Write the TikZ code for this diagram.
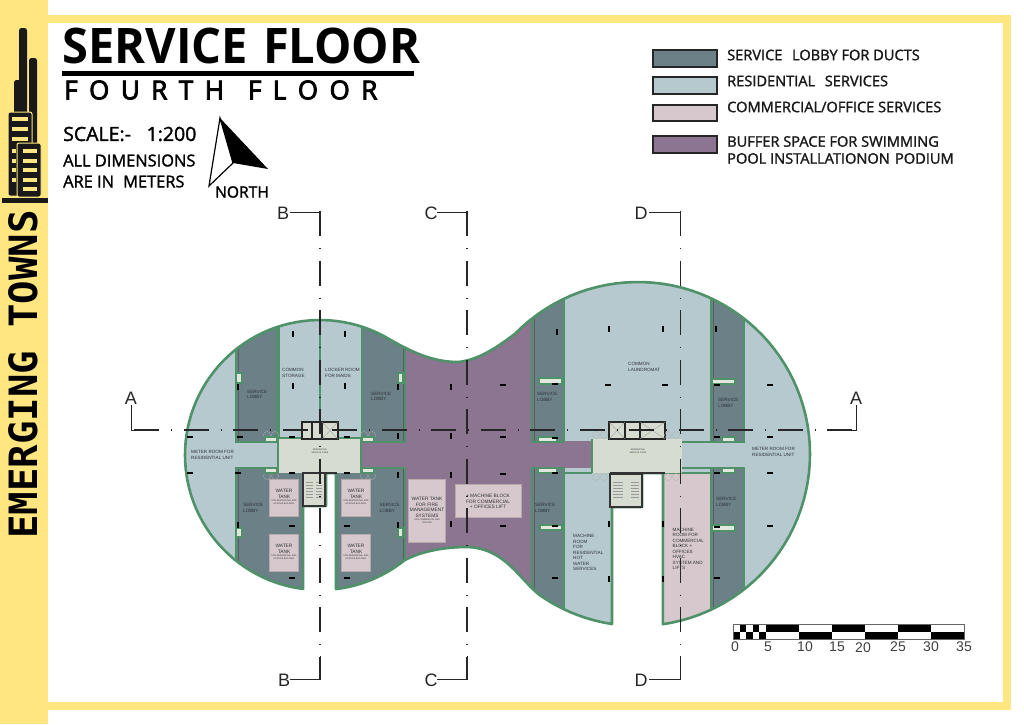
\documentclass[tikz,border=0pt]{standalone}
\usepackage{fontspec}
\setmainfont{Open Sans}
\newfontfamily\planfont{Liberation Sans}
\newfontfamily\towerfont{DejaVu Sans Mono}
\newfontfamily\headfont[FakeBold=1.6]{Open Sans}
\newfontfamily\subheadfont[FakeBold=3.4]{Open Sans}
\usepackage{xcolor}
\usepackage{tikz}
\usetikzlibrary{positioning}

\definecolor{strip}{HTML}{FFE680}
\definecolor{walls}{HTML}{4F9168}
\definecolor{lobbyc}{HTML}{6C8087}
\definecolor{resc}{HTML}{B6C9CF}
\definecolor{commc}{HTML}{D6C8CC}
\definecolor{bufferc}{HTML}{8B7590}
\definecolor{corec}{HTML}{D6DDD0}
\definecolor{inkc}{HTML}{2E3438}

\newcommand{\planoutline}{
    plot[domain=97.2:301,samples=70,variable=\t] ({320+135*cos(\t)},{455+135*sin(\t)})
    .. controls (415,354) and (435,362) .. (458,362)
    .. controls (480,360) and (500,345) .. (516,333)
    -- plot[domain=224.8:441.7,samples=70,variable=\t] ({638+172*cos(\t)},{454+172*sin(\t)})
    -- (663,473) -- (642,473) -- (642,507) -- (612,507)
    -- plot[domain=98.7:124.8,samples=12,variable=\t] ({638+172*cos(\t)},{454+172*sin(\t)})
    .. controls (520,580) and (505,548) .. (467,547)
    .. controls (445,547) and (422,551) .. (405,560)
    -- plot[domain=51:83.2,samples=12,variable=\t] ({320+135*cos(\t)},{455+135*sin(\t)})
    -- (336,473) -- (326,473) -- (326,506) -- (303,506) -- cycle}

\begin{document}
\begin{tikzpicture}[
        x=1pt, y=-1pt,
        every node/.style={inner sep=0pt},
        lobby/.style={fill=lobbyc, draw=walls, line width=1.8pt},
        resroom/.style={fill=resc, draw=walls, line width=1.8pt},
        commroom/.style={fill=commc, draw=walls, line width=1.8pt},
        tankbox/.style={fill=commc, draw=commc!85!black, line width=0.3pt},
        duct/.style={fill=corec!70!white, draw=walls, line width=1.5pt},
        liftwall/.style={draw=black!85, line width=2pt},
        stairwall/.style={draw=black!80, line width=1.6pt},
        thinline/.style={draw=black!40, line width=0.3pt},
        cutline/.style={draw=black!85, line width=1.2pt, dash pattern=on 25pt off 12pt on 1pt off 11.5pt},
        bracket/.style={draw=black!85, line width=1pt},
        cutletter/.style={font=\planfont\fontsize{18}{18}\selectfont, text=black!85},
        planlabel/.style={font=\planfont\fontsize{4.6}{5.5}\selectfont, text=inkc, align=left, anchor=west},
        tanklabel/.style={font=\planfont\fontsize{4.8}{5.5}\selectfont, text=inkc, align=center},
        finelabel/.style={font=\planfont\fontsize{2.2}{2.6}\selectfont, text=inkc, align=center},
        legendbox/.style={draw=black!85, line width=1.5pt},
        legendlabel/.style={font=\headfont\fontsize{14.6}{17}\selectfont, text=black!90, align=left, anchor=west},
        scalenum/.style={font=\planfont\fontsize{14}{14}\selectfont, text=black!75}
    ]
    \useasboundingbox (0,0) rectangle (1024,724);

    % Sheet frame -----------------------------------------
    \fill[white] (0,0) rectangle (1024,724);
    \fill[strip] (0,0) rectangle (48,724);
    \draw[strip, line width=8pt] (48,19) -- (1007,19) -- (1007,706) -- (48,706);

    % Tower icon
    \fill[black!90, rounded corners=2.5pt] (19,28) rectangle (27,132);
    \fill[black!90, rounded corners=2.5pt] (29,58) rectangle (37,150);
    \fill[black!90, rounded corners=2.5pt] (14,80) rectangle (22,125);
    \draw[strip, fill=black!90, line width=1pt, rounded corners=2pt] (8,112) rectangle (32,196);
    \foreach \ypos in {117,127,137} {
        \fill[strip] (12,\ypos) rectangle (28,\ypos+3.5);
    }
    \foreach \ypos in {149,159,168,178} {
        \fill[strip] (12,\ypos) rectangle (16,\ypos+3.5);
    }
    \draw[strip, fill=black!90, line width=1pt, rounded corners=2pt] (17,143) rectangle (41,197);
    \foreach \ypos in {149,159,168,178,187} {
        \fill[strip] (23,\ypos) rectangle (37,\ypos+3.5);
    }
    \fill[black!90] (2,198) rectangle (48,203);
    \node[rotate=90, anchor=west, font=\towerfont\bfseries\fontsize{39}{39}\selectfont] (brand) at (23,539) {EMERGING TOWNS};

    % Title block
    \node[anchor=west, font=\bfseries\fontsize{49}{49}\selectfont] (title) at (62,46) {\scalebox{0.96}[1]{SERVICE\hspace{3pt} FLOOR}};
    \fill[black] (62,71) rectangle (414,76) coordinate (titlerule);
    \node[anchor=west, font=\subheadfont\fontsize{26}{26}\selectfont] (subtitle) at (64,90) {F\hspace{11.5pt}O\hspace{11.5pt}U\hspace{11.5pt}R\hspace{11.5pt}T\hspace{11.5pt}H\hspace{24pt}F\hspace{11.5pt}L\hspace{11.5pt}O\hspace{11.5pt}O\hspace{11.5pt}R};
    \node[anchor=west, font=\headfont\fontsize{19.5}{20}\selectfont] (scale) at (63,134) {SCALE:-\hspace{0.8em}1:200};
    \node[anchor=west, align=left, font=\headfont\fontsize{16.4}{21}\selectfont] (dims) at (63,171) {ALL DIMENSIONS\\ARE IN\hspace{0.3em} METERS};

    % North arrow
    \draw[black, line width=1.2pt, fill=white] (220,118) -- (209,186) -- (233,163) -- cycle;
    \fill[black] (220,118) -- (268,169) -- (233,163) -- cycle;
    \node[font=\headfont\fontsize{15.6}{15}\selectfont] (north) at (242,192) {NORTH};

    % Legend
    \draw[legendbox, fill=lobbyc] (653,50) rectangle (717,67);
    \draw[legendbox, fill=resc] (653,77) rectangle (717,94);
    \draw[legendbox, fill=commc] (653,105) rectangle (717,121);
    \draw[legendbox, fill=bufferc] (653,136) rectangle (717,153);
    \node[legendlabel] (legone) at (727,55) {SERVICE\hspace{0.4em} LOBBY FOR DUCTS};
    \node[legendlabel] (legtwo) at (727,81) {RESIDENTIAL\hspace{0.4em} SERVICES};
    \node[legendlabel] (legthree) at (727,107) {COMMERCIAL/OFFICE SERVICES};
    \node[legendlabel] (legfour) at (727,150) {BUFFER SPACE FOR SWIMMING\\POOL INSTALLATIONON\hspace{0.1em} PODIUM};

    % Floor zones -----------------------------------------
    \begin{scope}
        \clip \planoutline;
        \fill[resc] (170,270) rectangle (830,640);
        \fill[bufferc] (405,300) rectangle (532,610);
        \fill[bufferc] (361,441) rectangle (592,468);
        % left lobe
        \draw[lobby] (236,300) rectangle (277,442);
        \draw[resroom] (279,300) rectangle (320,438);
        \draw[resroom] (320,300) rectangle (362,438);
        \draw[lobby] (362,300) rectangle (405,442);
        \draw[lobby] (236,468) rectangle (303,610);
        \draw[lobby] (336,468) rectangle (405,610);
        % right lobe
        \draw[lobby] (532,290) rectangle (564,442);
        \draw[lobby] (532,468) rectangle (564,640);
        \draw[lobby] (711,280) rectangle (744,442);
        \draw[lobby] (711,468) rectangle (744,640);
        \draw[commroom] (663,473) rectangle (711,640);
        \draw[walls, line width=1.8pt] (564,473) -- (592,473);
        \draw[walls, line width=1.8pt] (612,507) -- (612,640);
        \draw[walls, line width=1.8pt] (682,442) -- (711,442);
        \draw[walls, line width=1.8pt] (682,468) -- (711,468);
        % dark inner wall faces
        \draw[inkc!80, line width=1pt] (238,300) -- (238,441);
        \draw[inkc!80, line width=1pt] (403,300) -- (403,441);
        \draw[inkc!80, line width=1pt] (238,469) -- (238,600);
        \draw[inkc!80, line width=1pt] (403,469) -- (403,600);
        \draw[inkc!80, line width=1pt] (534,469) -- (534,610);
        \draw[inkc!80, line width=1pt] (534,300) -- (534,441);
        \draw[inkc!80, line width=1pt] (713,290) -- (713,441);
        \draw[inkc!80, line width=1pt] (713,469) -- (713,630);
    \end{scope}
    \draw[walls, line width=2.6pt, line join=round] \planoutline;

    % Service cores
    \fill[corec] (278,439) rectangle (361,473);
    \fill[corec] (592,439) rectangle (682,473);
    \draw[walls, line width=1.4pt] (278,439) -- (278,473);
    \draw[walls, line width=1.4pt] (361,439) -- (361,473);
    \draw[walls, line width=1.4pt] (592,439) -- (592,473);
    \draw[black!80, line width=1.6pt] (302,473) -- (337,473);
    \draw[black!80, line width=1.6pt] (610,473) -- (665,473);

    % Lift blocks
    \draw[liftwall, fill=corec] (302,422) rectangle (338,439);
    \draw[liftwall] (312,422) -- (312,439);
    \draw[liftwall] (322,422) -- (322,439);
    \draw[thinline] (322,422) -- (338,439);
    \draw[thinline] (322,439) -- (338,422);
    \draw[liftwall, fill=corec] (609,422) rectangle (665,439);
    \draw[liftwall] (625,422) -- (625,439);
    \draw[liftwall] (640,422) -- (640,439);
    \draw[thinline] (609,422) -- (625,439);
    \draw[thinline] (609,439) -- (625,422);
    \draw[thinline] (640,422) -- (665,439);
    \draw[thinline] (640,439) -- (665,422);

    % Stairs
    \draw[stairwall, fill=corec] (303,473) rectangle (325,506);
    \draw[stairwall, fill=corec] (610,474) rectangle (642,507);
    \foreach \ypos in {482,485,488,491,494,497} {
        \draw[thinline] (306,\ypos) -- (313,\ypos);
        \draw[thinline] (316,\ypos) -- (322,\ypos);
        \draw[thinline] (613,\ypos) -- (623,\ypos);
        \draw[thinline] (631,\ypos) -- (639,\ypos);
    }

    % Door swings
    \foreach \xpos/\ypos in {267/435,275/435,364/435,372/435,267/476,275/476,364/476,372/476,
                             596/435,604/435,668/435,676/435,596/477,604/477,668/477,676/477} {
        \draw[black!30, line width=0.3pt] (\xpos,\ypos) circle[radius=3.5];
    }

    % Duct shafts
    \foreach \xa/\ya/\xb/\yb in {236/373/242/383, 398/373/403/383, 236/528/242/537, 398/528/403/537,
                                 265/437/277/442, 362/437/374/442, 265/468/277/473, 362/468/374/473,
                                 539/378/562/384, 538/437/557/442, 538/468/557/473, 540/525/562/530,
                                 712/379/735/384, 722/437/735/442, 722/468/735/473, 712/525/735/531} {
        \draw[duct] (\xa,\ya) rectangle (\xb,\yb);
    }

    % Tank boxes
    \foreach \xa/\ya in {269/479, 269/534, 341/479, 341/534} {
        \draw[tankbox] (\xa,\ya) rectangle (\xa+29,\ya+37);
    }
    \draw[tankbox] (408,479) rectangle (445,542);
    \draw[tankbox] (455,484) rectangle (521,517);

    % Columns
    \foreach \xpos/\ypos in {293/334,345/334,293/386,345/386,238/387,398/387,398/436,398/475,398/525,238/525,
                             451/387,451/436,451/475,451/524,557/332,609/329,663/329,716/329,609/524,663/524,609/579,663/579} {
        \fill[black] (\xpos-1.3,\ypos-3) rectangle (\xpos+1.3,\ypos+3);
    }
    \foreach \xpos/\ypos in {238/473,240/437,190/437,190/473,292/526,292/578,347/526,347/578,292/437,347/437,292/473,347/473,
                             503/385,503/437,503/474,503/526,555/384,555/438,555/473,555/526,555/578,608/385,
                             665/385,717/385,770/385,770/437,717/437,717/473,770/473,717/527,770/526,717/578} {
        \fill[black] (\xpos-3,\ypos-1.3) rectangle (\xpos+3,\ypos+1.3);
    }

    % Room labels
    \node[planlabel] (meterl) at (191,455) {METER ROOM FOR\\RESIDENTIAL UNIT};
    \node[planlabel] (storage) at (282,373) {COMMON\\STORAGE};
    \node[planlabel] (locker) at (325,373) {LOCKER ROOM\\FOR MAIDS};
    \node[planlabel] (lobnw) at (247,394.5) {SERVICE\\LOBBY};
    \node[planlabel] (lobne) at (371,396.5) {SERVICE\\LOBBY};
    \node[planlabel] (lobsw) at (243,508) {SERVICE\\LOBBY};
    \node[planlabel] (lobse) at (379.5,508) {SERVICE\\LOBBY};
    \node[planlabel] (lobca) at (537,397) {SERVICE\\LOBBY};
    \node[planlabel] (lobcb) at (535,508) {SERVICE\\LOBBY};
    \node[planlabel] (lobra) at (718,403) {SERVICE\\LOBBY};
    \node[planlabel] (lobrb) at (716,502) {SERVICE\\LOBBY};
    \node[planlabel] (laundry) at (628,367) {COMMON\\LAUNDROMAT};
    \node[planlabel] (meterr) at (752,452) {METER ROOM FOR\\RESIDENTIAL UNIT};
    \node[planlabel] (machres) at (573,552.5) {MACHINE\\ROOM\\FOR\\RESIDENTIAL\\HOT\\WATER\\SERVICES};
    \node[planlabel] (machcom) at (672.5,549) {MACHINE\\ROOM FOR\\COMMERCIAL\\BLOCK +\\OFFICES\\HVAC\\SYSTEM AND\\LIFTS};
    \node[finelabel] (corel) at (320,451) {RESIDENTIAL\\SERVICE CORE};
    \node[finelabel] (corer) at (638,451) {RESIDENTIAL\\SERVICE CORE};
    \foreach \xpos/\ypos/\tname in {284/494/tanka, 284/549/tankb, 356/494/tankc, 356/549/tankd} {
        \node[tanklabel] (\tname) at (\xpos,\ypos) {WATER\\TANK};
        \node[finelabel, below=1.5pt of \tname] (\tname sub) {FOR RESIDENTIAL AND\\OFFICES BUILDING};
    }
    \node[tanklabel] (tankfire) at (427,507.5) {WATER TANK\\FOR FIRE\\MANAGEMENT\\SYSTEMS};
    \node[finelabel, below=1.5pt of tankfire] (tankfiresub) {FOR COMMERCIAL AND\\OFFICES};
    \node[tanklabel] (machblock) at (488,501.5) {+ MACHINE BLOCK\\FOR COMMERCIAL\\+ OFFICES LIFT};

    % Section lines ---------------------------------------
    \draw[cutline] (134,430) -- (856,430);
    \foreach \xpos in {320,467,680.5} {
        \draw[cutline] (\xpos,211) -- (\xpos,679);
    }
    \draw[bracket] (131,405) -- (131,430) -- (159,430);
    \draw[bracket] (856,405) -- (856,430) -- (827,430);
    \draw[bracket] (290,212) -- (320,212) -- (320,235);
    \draw[bracket] (437,212) -- (467,212) -- (467,235);
    \draw[bracket] (649,212) -- (680.5,212) -- (680.5,235);
    \draw[bracket] (290,679) -- (320,679) -- (320,656);
    \draw[bracket] (437,679) -- (467,679) -- (467,656);
    \draw[bracket] (649,679) -- (680.5,679) -- (680.5,656);
    \node[cutletter] (cuta) at (131,398) {A};
    \node[cutletter] (cutaa) at (856,398) {A};
    \node[cutletter] (cutb) at (283,213) {B};
    \node[cutletter] (cutbb) at (284,680) {B};
    \node[cutletter] (cutc) at (431,213) {C};
    \node[cutletter] (cutcc) at (431,680) {C};
    \node[cutletter] (cutd) at (641,213) {D};
    \node[cutletter] (cutdd) at (641,680) {D};

    % Scale bar -------------------------------------------
    \foreach \xstart [count=\i] in {733,739.6,746.2,752.8,759.4} {
        \pgfmathsetmacro{\xend}{\xstart+6.6}
        \ifodd\i
            \fill[black] (\xstart,631.5) rectangle (\xend,639);
        \else
            \fill[black] (\xstart,624) rectangle (\xend,631.5);
        \fi
    }
    \foreach \xstart [count=\i] in {766,799,832,865,898,931} {
        \pgfmathsetmacro{\xend}{\xstart+33}
        \ifodd\i
            \fill[black] (\xstart,624) rectangle (\xend,631.5);
        \else
            \fill[black] (\xstart,631.5) rectangle (\xend,639);
        \fi
    }
    \draw[black!60, line width=0.5pt] (733,624) rectangle (964,639);
    \foreach \xpos/\ypos/\lab in {735/647/0, 768/647/5, 805/647/10, 837/647/15, 863/648/20, 898/647/25, 931/647/30, 964/647/35} {
        \node[scalenum] (num\lab) at (\xpos,\ypos) {\lab};
    }
\end{tikzpicture}
\end{document}
